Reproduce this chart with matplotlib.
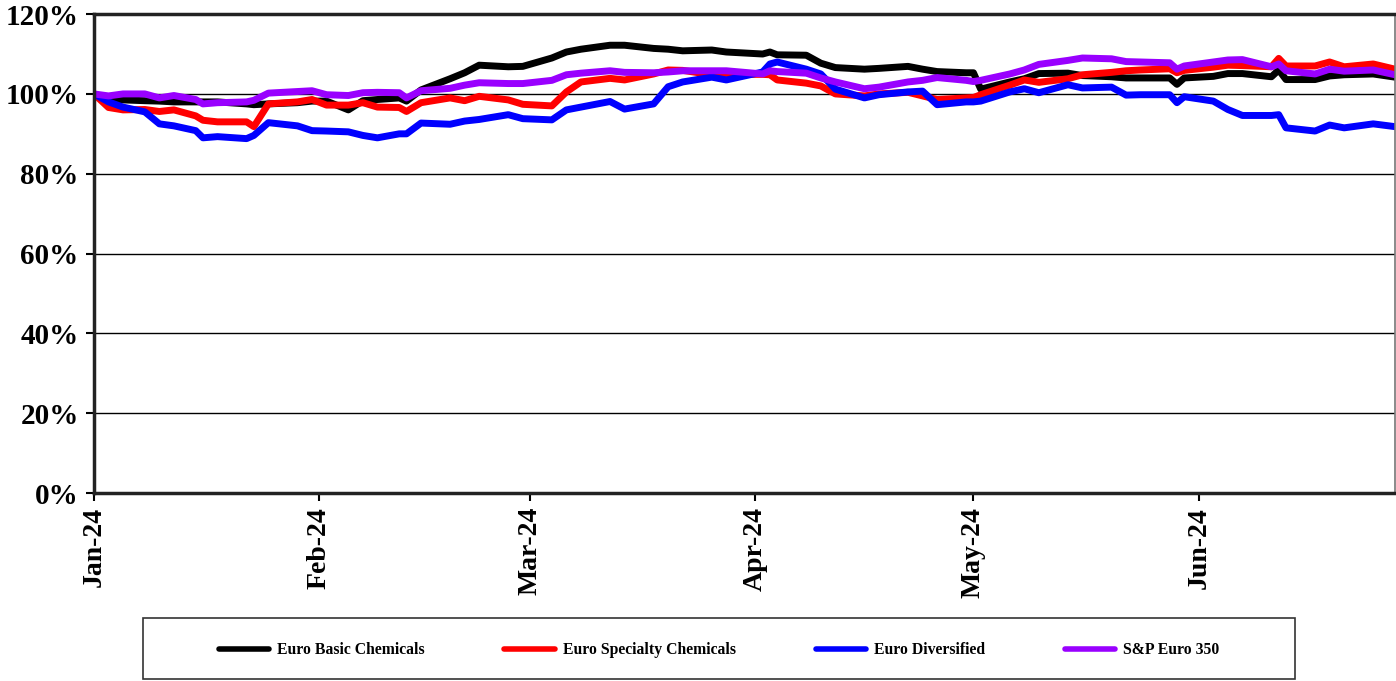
"""
European chemicals sector indices vs S&P Euro 350, rebased to 100% on 1 Jan 2024.
"""

import matplotlib
matplotlib.use("Agg")

import matplotlib.pyplot as plt
import matplotlib.dates as mdates
from matplotlib.patches import Rectangle
from matplotlib.ticker import FuncFormatter
import pandas as pd

# -- Data (% of 1 Jan level) --------------------------------------------------
dates = [
    "2024-01-01", "2024-01-03", "2024-01-05", "2024-01-08", "2024-01-10", "2024-01-12",
    "2024-01-15", "2024-01-16", "2024-01-18", "2024-01-22", "2024-01-23", "2024-01-25",
    "2024-01-29", "2024-01-31", "2024-02-02", "2024-02-05", "2024-02-07", "2024-02-09",
    "2024-02-12", "2024-02-13", "2024-02-15", "2024-02-19", "2024-02-21", "2024-02-23",
    "2024-02-27", "2024-02-29", "2024-03-04", "2024-03-06", "2024-03-08", "2024-03-12",
    "2024-03-14", "2024-03-18", "2024-03-20", "2024-03-22", "2024-03-26", "2024-03-28",
    "2024-04-02", "2024-04-03", "2024-04-04", "2024-04-08", "2024-04-10", "2024-04-12",
    "2024-04-16", "2024-04-18", "2024-04-22", "2024-04-24", "2024-04-26", "2024-04-30",
    "2024-05-01", "2024-05-02", "2024-05-06", "2024-05-08", "2024-05-10", "2024-05-14",
    "2024-05-16", "2024-05-20", "2024-05-22", "2024-05-24", "2024-05-28", "2024-05-29",
    "2024-05-30", "2024-06-03", "2024-06-05", "2024-06-07", "2024-06-11", "2024-06-12",
    "2024-06-13", "2024-06-17", "2024-06-19", "2024-06-21", "2024-06-25", "2024-06-28",
]

basic_chemicals = [
    100.0, 98.5, 98.5, 98.3, 98.2, 98.0,
    98.0, 98.0, 98.0, 97.5, 97.3, 97.5,
    97.8, 98.2, 98.2, 96.0, 98.3, 98.6,
    99.0, 98.2, 101.0, 103.8, 105.3, 107.2,
    106.8, 106.9, 109.0, 110.5, 111.2, 112.2,
    112.2, 111.4, 111.2, 110.8, 111.0, 110.5,
    110.0, 110.5, 109.8, 109.7, 107.7, 106.6,
    106.2, 106.4, 106.9, 106.2, 105.6, 105.3,
    105.3, 101.2, 103.0, 103.8, 105.1, 105.2,
    104.6, 104.3, 104.0, 104.0, 104.0, 102.4,
    104.0, 104.4, 105.1, 105.1, 104.3, 106.0,
    103.6, 103.6, 104.5, 104.8, 105.0, 104.2,
]

specialty_chemicals = [
    100.0, 96.6, 96.0, 96.1, 95.6, 96.0,
    94.5, 93.4, 93.0, 93.0, 91.8, 97.5,
    98.0, 98.6, 97.2, 97.2, 97.8, 96.7,
    96.6, 95.6, 97.8, 99.0, 98.3, 99.4,
    98.5, 97.4, 97.0, 100.5, 103.0, 103.9,
    103.5, 105.0, 106.0, 105.9, 104.8, 104.9,
    104.9, 104.8, 103.5, 102.7, 102.0, 100.0,
    99.5, 100.0, 100.4, 99.5, 98.6, 99.0,
    99.1, 99.8, 102.2, 103.5, 102.9, 103.8,
    104.8, 105.4, 105.8, 106.0, 106.3, 105.3,
    105.9, 106.7, 107.2, 107.1, 106.8, 108.9,
    107.0, 107.0, 108.0, 106.8, 107.5, 106.2,
]

diversified = [
    100.0, 98.0, 96.7, 95.5, 92.5, 92.0,
    90.8, 89.0, 89.3, 88.8, 89.6, 92.8,
    92.0, 90.8, 90.7, 90.5, 89.6, 89.0,
    90.0, 90.0, 92.7, 92.4, 93.2, 93.6,
    94.8, 93.8, 93.5, 96.0, 96.7, 98.1,
    96.2, 97.5, 101.8, 103.0, 104.2, 103.5,
    105.5, 107.5, 108.0, 106.2, 105.0, 101.2,
    99.0, 99.8, 100.5, 100.7, 97.3, 98.0,
    98.0, 98.2, 100.5, 101.3, 100.3, 102.3,
    101.5, 101.7, 99.7, 99.8, 99.8, 97.8,
    99.3, 98.2, 96.1, 94.6, 94.6, 94.8,
    91.5, 90.7, 92.2, 91.5, 92.5, 91.8,
]

sp_euro_350 = [
    100.0, 99.5, 100.0, 100.0, 99.0, 99.6,
    98.6, 97.5, 97.8, 98.0, 98.4, 100.2,
    100.6, 100.8, 99.8, 99.6, 100.3, 100.4,
    100.3, 99.0, 100.8, 101.4, 102.2, 102.8,
    102.6, 102.6, 103.4, 104.8, 105.2, 105.8,
    105.4, 105.3, 105.5, 105.8, 105.8, 105.8,
    105.0, 105.8, 105.6, 105.2, 104.0, 103.0,
    101.3, 101.7, 103.0, 103.4, 104.1, 103.4,
    103.1, 103.4, 105.0, 106.0, 107.4, 108.4,
    109.0, 108.8, 108.1, 108.0, 107.8, 106.2,
    107.0, 108.0, 108.5, 108.6, 106.8, 107.5,
    105.8, 105.0, 106.2, 105.7, 106.0, 104.8,
]

series_names = ["Euro Basic Chemicals", "Euro Specialty Chemicals",
                "Euro Diversified", "S&P Euro 350"]
series_colors = ["#000000", "#ff0000", "#0000ff", "#9900ff"]

# -- Plot ---------------------------------------------------------------------
plt.rcParams["font.family"] = ["Liberation Serif", "DejaVu Serif"]
plt.rcParams["font.weight"] = "bold"

fig = plt.figure(figsize=(13.96, 6.81), dpi=100)
ax = fig.add_axes([0.0673, 0.276, 0.9320, 0.7033])

x = pd.to_datetime(dates)
all_series = [basic_chemicals, specialty_chemicals, diversified, sp_euro_350]
handles = []
for name, values, color in zip(series_names, all_series, series_colors):
    (ln,) = ax.plot(x, [v / 100 for v in values], color=color, lw=5,
                    solid_joinstyle="round", solid_capstyle="round", label=name)
    handles.append(ln)

ax.set_ylim(0, 1.2)
ax.set_yticks([0, 0.2, 0.4, 0.6, 0.8, 1.0, 1.2])
ax.yaxis.set_major_formatter(FuncFormatter(lambda v, _: f"{v * 100:.0f}%"))
ax.set_xlim(pd.Timestamp("2024-01-01"), pd.Timestamp("2024-06-28"))
ax.xaxis.set_major_locator(mdates.MonthLocator())
ax.xaxis.set_major_formatter(mdates.DateFormatter("%b-%y"))

ax.grid(axis="y", color="black", lw=1)
ax.set_axisbelow(True)

ax.tick_params(axis="y", labelsize=21, direction="out", length=6, width=1.5, pad=5)
ax.tick_params(axis="x", labelsize=20, direction="out", length=6, width=1.5,
               labelrotation=90, pad=4)
for lab in ax.get_xticklabels() + ax.get_yticklabels():
    lab.set_fontweight("bold")

for side in ["left", "bottom", "top"]:
    ax.spines[side].set_linewidth(2.5)
    ax.spines[side].set_color("#222222")
ax.spines["right"].set_linewidth(1.2)
ax.spines["right"].set_color("#777777")

# -- Legend in a framed box below the axes -----------------------------------
fig.patches.append(Rectangle((0.1024, 0.003), 0.8252, 0.0895, transform=fig.transFigure,
                             fill=False, edgecolor="#333333", lw=1.2))
leg = fig.legend(handles=handles, loc="center", bbox_to_anchor=(0.515, 0.0455),
                 ncol=4, frameon=False, prop={"size": 11.3, "weight": "bold"},
                 handlelength=3.2, handletextpad=0.5, columnspacing=5.1)
for h in leg.legend_handles:
    h.set_linewidth(4)

fig.savefig("out.png", dpi=100, facecolor="white")
plt.close(fig)
